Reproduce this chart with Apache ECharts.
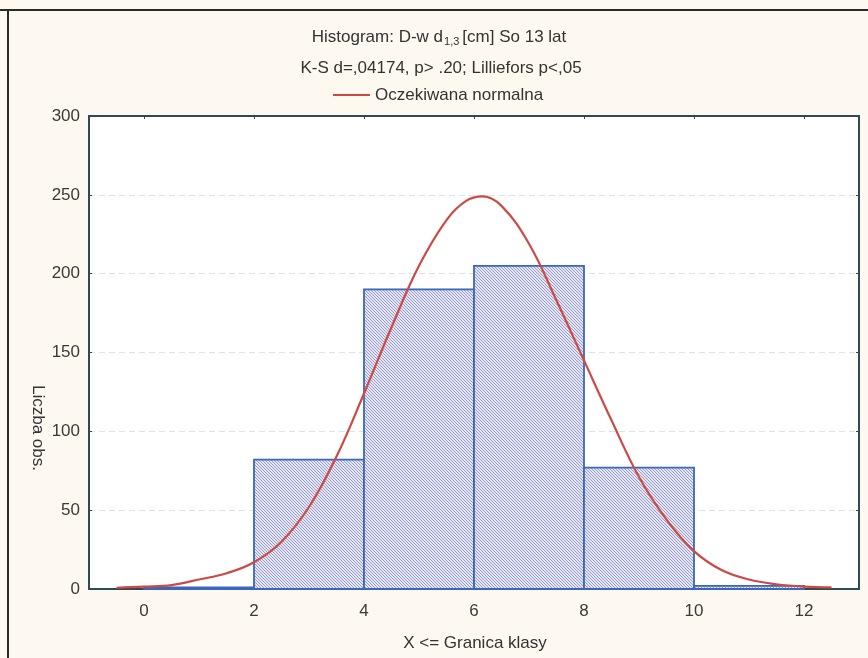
<!DOCTYPE html>
<html><head><meta charset="utf-8">
<script src="https://cdn.jsdelivr.net/npm/echarts@6/dist/echarts.min.js"></script>
<style>html,body{margin:0;padding:0;background:#fdf8f0;}#c{width:868px;height:658px;}</style>
</head><body><div id="c"></div>
<script>
// Histogram bins: [start, end]
var binStarts = [0, 2, 4, 6, 8, 10];
var binEnds   = [2, 4, 6, 8, 10, 12];
var counts    = [1, 82, 190, 205, 77, 2];
// Expected normal curve
var curveX = [-0.5, 0, 0.5, 1, 1.5, 2, 2.5, 3, 3.5, 4, 4.5, 5, 5.5, 5.85, 6.15, 6.5, 7, 7.5, 8, 8.5, 9, 9.5, 10, 10.5, 11, 11.5, 12, 12.5];
var curveY = [0.8, 1.5, 2.5, 6, 10, 17, 30, 52, 84, 124, 166, 205, 234, 246, 249, 243, 219, 183, 145, 107, 71, 44, 24, 12, 6, 3, 1.5, 1];
var xTicks = [0, 2, 4, 6, 8, 10, 12];
var yMin = 0, yMax = 300, yStep = 50;
var xMin = -1, xMax = 13;

var pc = document.createElement('canvas');
pc.width = 6; pc.height = 6;
var g = pc.getContext('2d');
g.fillStyle = '#e8e4ee'; g.fillRect(0,0,6,6);
g.strokeStyle = '#8898d0'; g.lineWidth = 0.9;
for (var o = -6; o <= 6; o += 3) {
  g.beginPath(); g.moveTo(o, 0); g.lineTo(o + 6, 6); g.stroke();
}

var histData = binStarts.map(function(s, i){ return [s, binEnds[i], counts[i]]; });
var curveData = curveX.map(function(x, i){ return [x, curveY[i]]; });

var FONT = 'Liberation Sans, Arial, sans-serif';
var FS = 17;
var axisCol = '#2e4a55';
var chart = echarts.init(document.getElementById('c'), null, {renderer:'canvas'});
chart.setOption({
  backgroundColor: '#fdf8f0',
  animation: false,
  textStyle: {fontFamily: FONT},
  grid: {left: 89, top: 116, width: 770, height: 473, show: true, backgroundColor: '#ffffff', borderWidth: 0},
  xAxis: [{
    type: 'value', min: xMin, max: xMax,
    axisLine: {show: true, onZero: false, lineStyle: {color: axisCol, width: 2}},
    axisTick: {show: true, inside: true, length: 3, customValues: xTicks, lineStyle: {color: axisCol}},
    axisLabel: {customValues: xTicks, color: '#3a3a3a', fontSize: FS, margin: 14},
    splitLine: {show: false}
  }, {
    type: 'value', min: xMin, max: xMax, position: 'top',
    axisLine: {show: true, onZero: false, lineStyle: {color: axisCol, width: 2}},
    axisTick: {show: true, inside: true, length: 3, customValues: xTicks, lineStyle: {color: axisCol}},
    axisLabel: {show: false}, splitLine: {show: false}
  }],
  yAxis: [{
    type: 'value', min: yMin, max: yMax, interval: yStep,
    axisLine: {show: true, onZero: false, lineStyle: {color: axisCol, width: 2}},
    axisTick: {show: true, inside: true, length: 3, lineStyle: {color: axisCol}},
    axisLabel: {color: '#3a3a3a', fontSize: FS, margin: 9},
    splitLine: {show: true, lineStyle: {color: '#d6e4f3', type: [6, 4], width: 1}}
  }, {
    type: 'value', min: yMin, max: yMax, interval: yStep, position: 'right',
    axisLine: {show: true, onZero: false, lineStyle: {color: axisCol, width: 2}},
    axisTick: {show: true, inside: true, length: 3, lineStyle: {color: axisCol}},
    axisLabel: {show: false}, splitLine: {show: false}
  }],
  series: [{
    type: 'custom',
    data: histData,
    encode: {x: [0, 1], y: 2},
    z: 2,
    renderItem: function(params, api){
      var p0 = api.coord([api.value(0), api.value(2)]);
      var p1 = api.coord([api.value(1), 0]);
      return {
        type: 'rect',
        shape: {x: p0[0], y: p0[1], width: p1[0] - p0[0], height: p1[1] - p0[1]},
        style: {fill: {image: pc, repeat: 'repeat'}, stroke: '#3b66bd', lineWidth: 1.8}
      };
    }
  }, {
    type: 'line',
    data: curveData,
    smooth: 0.4,
    showSymbol: false,
    z: 3,
    lineStyle: {color: '#cc4a44', width: 2.2}
  }],
  graphic: [
    {type: 'line', shape: {x1: 0, y1: 10, x2: 868, y2: 10}, style: {stroke: '#2a2a2a', lineWidth: 2}},
    {type: 'line', shape: {x1: 8, y1: 10, x2: 8, y2: 658}, style: {stroke: '#2a2a2a', lineWidth: 2}},
    {type: 'text', x: 439, y: 37, style: {
      text: '{a|Histogram: D-w d}{s|1,3}{a|[cm] So 13 lat}',
      align: 'center', verticalAlign: 'middle',
      rich: {a: {fontSize: FS, fill: '#333', fontFamily: FONT},
             s: {fontSize: 11, fill: '#333', padding: [10, 3, 0, 1], fontFamily: FONT}}
    }},
    {type: 'text', x: 441, y: 68, style: {
      text: 'K-S d=,04174, p> .20; Lilliefors p<,05', align: 'center', verticalAlign: 'middle',
      fontSize: FS, fill: '#333', fontFamily: FONT
    }},
    {type: 'line', shape: {x1: 333, y1: 95, x2: 370, y2: 95}, style: {stroke: '#cc4a44', lineWidth: 2}},
    {type: 'text', x: 375, y: 95, style: {
      text: 'Oczekiwana normalna', align: 'left', verticalAlign: 'middle',
      fontSize: FS, fill: '#333', fontFamily: FONT
    }},
    {type: 'text', x: 475, y: 643, style: {
      text: 'X <= Granica klasy', align: 'center', verticalAlign: 'middle',
      fontSize: FS, fill: '#333', fontFamily: FONT
    }},
    {type: 'text', x: 38, y: 428, rotation: -Math.PI / 2, style: {
      text: 'Liczba obs.', align: 'center', verticalAlign: 'middle',
      fontSize: FS, fill: '#333', fontFamily: FONT
    }}
  ]
});
</script></body></html>
